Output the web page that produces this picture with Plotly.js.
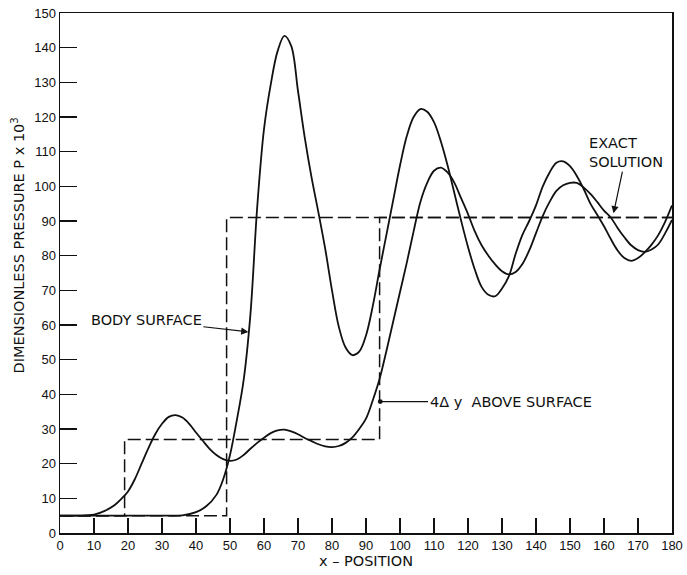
<!DOCTYPE html>
<html>
<head>
<meta charset="utf-8">
<script src="https://cdn.plot.ly/plotly-3.0.1.min.js"></script>
<style>html,body{margin:0;padding:0;background:#fff;}#chart{width:687px;height:575px;}</style>
</head>
<body>
<div id="chart"></div>
<script>
// Computed pressure on the body surface
const bodyX = [0, 10, 20, 30, 36, 40, 43, 46, 48, 50, 52, 54, 56, 58, 60, 62, 64, 66, 68, 70, 72, 74, 76, 78, 80, 82, 84, 86, 88, 90, 92, 94, 96, 98, 100, 102, 104, 106, 108, 110, 112, 114, 116, 118, 120, 122, 124, 126, 128, 130, 132, 134, 136, 138, 140, 142, 144, 146, 148, 150, 152, 154, 156, 158, 160, 162, 164, 166, 168, 170, 172, 174, 176, 178, 180];
const bodyY = [5, 5, 5, 5, 5.1, 6, 7.7, 11, 15.5, 22.5, 32.5, 44, 63, 94, 116.5, 129.5, 139, 143.4, 140.5, 127.5, 114, 102.5, 92.5, 82, 70, 59.5, 53.5, 51.3, 52.3, 57, 65.5, 76, 86, 96, 106, 114.5, 120, 122.3, 121.5, 118.5, 113, 106, 98, 90, 82.5, 76, 71, 68.7, 68.3, 70.5, 74, 80.5, 86, 90, 94.5, 100, 104, 106.8, 107.2, 105.8, 103, 99.3, 95, 91.8, 88.5, 84.8, 81.5, 79.3, 78.5, 79.3, 81, 83.2, 86, 89.8, 94.5];

// Computed pressure 4 dy above the surface
const aboveX = [0, 5, 10, 13, 16, 18, 20, 22, 24, 26, 28, 30, 32, 34, 36, 38, 40, 42, 44, 46, 48, 50, 52, 54, 56, 58, 60, 62, 64, 66, 68, 70, 72, 74, 76, 78, 80, 82, 84, 86, 88, 90, 92, 94, 96, 98, 100, 102, 104, 106, 108, 110, 112, 114, 116, 118, 120, 122, 124, 126, 128, 130, 132, 134, 136, 138, 140, 142, 144, 146, 148, 150, 152, 154, 156, 158, 160, 162, 164, 166, 168, 170, 172, 174, 176, 178, 180];
const aboveY = [5, 5, 5.3, 6.3, 8, 9.8, 12, 15.5, 20, 24.5, 28.5, 31.5, 33.5, 34, 33.3, 31.5, 29, 26.6, 24.3, 22.5, 21.3, 20.8, 21.2, 22.5, 24.3, 26, 27.5, 28.8, 29.6, 29.8, 29.3, 28.5, 27.4, 26.5, 25.6, 25, 24.8, 25.1, 26, 27.6, 30, 33, 38.3, 44.5, 52.5, 61, 69.5, 78, 87, 95.5, 101, 104.5, 105.4, 104, 101, 96.5, 92, 87, 83, 80, 77.5, 75.5, 74.6, 75.3, 77.6, 81.5, 86.5, 91.5, 95.5, 98.7, 100.3, 101, 101, 99.7, 97.8, 95.5, 93, 91, 88, 85.3, 83, 81.6, 81.1, 81.8, 83.3, 86.5, 90.3];

// Exact solutions (step functions)
const exactBodyX = [0, 49, 180];
const exactBodyY = [5, 91, 91];
const exactAboveX = [0, 19, 94, 180];
const exactAboveY = [5, 27, 91, 91];

const xTicks = [0,10,20,30,40,50,60,70,80,90,100,110,120,130,140,150,160,170,180];
const yTicks = [0,10,20,30,40,50,60,70,80,90,100,110,120,130,140,150];

const traces = [
  {x: exactBodyX, y: exactBodyY, mode: 'lines', line: {shape: 'hv', color: '#111', width: 1.5, dash: '13px,5px'}, hoverinfo: 'skip'},
  {x: exactAboveX, y: exactAboveY, mode: 'lines', line: {shape: 'hv', color: '#111', width: 1.5, dash: '13px,5px'}, hoverinfo: 'skip'},
  {x: bodyX, y: bodyY, mode: 'lines', line: {shape: 'spline', smoothing: 1, color: '#111', width: 1.8}},
  {x: aboveX, y: aboveY, mode: 'lines', line: {shape: 'spline', smoothing: 1, color: '#111', width: 1.8}}
];

const annFont = {family: 'DejaVu Sans', size: 14.5, color: '#111'};
const pad = '&nbsp;'.repeat(12);

const layout = {
  width: 687, height: 575,
  margin: {l: 60, r: 15, t: 13, b: 42},
  paper_bgcolor: '#fff', plot_bgcolor: '#fff',
  showlegend: false,
  font: {family: 'Liberation Sans', size: 13, color: '#111'},
  xaxis: {
    range: [0, 180], tickmode: 'array', tickvals: xTicks, ticktext: xTicks.map(String),
    ticks: 'inside', ticklen: 15, tickwidth: 1.3, tickcolor: '#111',
    showline: true, linecolor: '#111', linewidth: 1.5, mirror: true,
    showgrid: false, zeroline: false,
    tickfont: {family: 'Liberation Sans', size: 13, color: '#111'},
    title: {text: 'x – POSITION', standoff: 4, font: annFont}
  },
  yaxis: {
    range: [0, 150], tickmode: 'array', tickvals: yTicks, ticktext: yTicks.map(String),
    ticks: 'inside', ticklen: 17, tickwidth: 1.3, tickcolor: '#111',
    showline: true, linecolor: '#111', linewidth: 1.5, mirror: true,
    showgrid: false, zeroline: false,
    tickfont: {family: 'Liberation Sans', size: 13, color: '#111'},
    title: {text: pad + 'DIMENSIONLESS PRESSURE P x 10<sup>3</sup>', standoff: 6, font: annFont}
  },
  annotations: [
    {x: 55.4, y: 58, axref: 'x', ayref: 'y', ax: 25.4, ay: 61.4, text: 'BODY SURFACE', showarrow: true, arrowhead: 2, arrowsize: 1.2, arrowwidth: 1.2, arrowcolor: '#111', font: annFont},
    {x: 94.2, y: 37.9, axref: 'x', ayref: 'y', ax: 132.5, ay: 37.9, text: '4Δ y  ABOVE SURFACE', showarrow: true, arrowhead: 6, arrowsize: 1, arrowwidth: 1.2, arrowcolor: '#111', font: annFont},
    {x: 162.8, y: 92.2, axref: 'x', ayref: 'y', ax: 166.6, ay: 109.7, text: 'EXACT<br>SOLUTION', align: 'left', showarrow: true, arrowhead: 2, arrowsize: 1.2, arrowwidth: 1.2, arrowcolor: '#111', font: annFont}
  ]
};

Plotly.newPlot('chart', traces, layout, {displayModeBar: false, staticPlot: true});
</script>
</body>
</html>
